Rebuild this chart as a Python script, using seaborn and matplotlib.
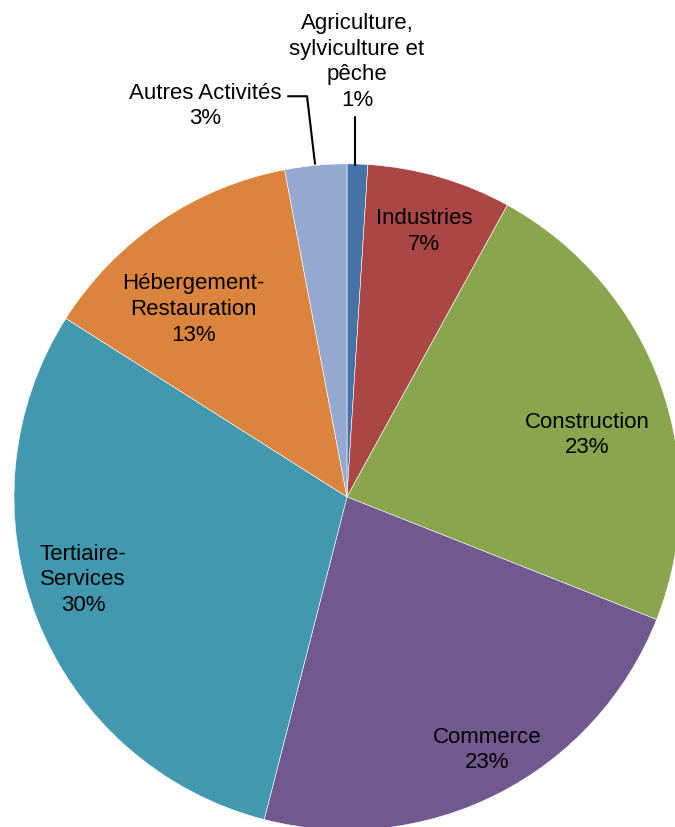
import matplotlib
matplotlib.use("Agg")
from matplotlib import pyplot as plt
import seaborn as sns

# data
secteurs = ["Agriculture,\nsylviculture et\npêche", "Industries", "Construction",
            "Commerce", "Tertiaire-\nServices", "Hébergement-\nRestauration",
            "Autres Activités"]
parts = [1, 7, 23, 23, 30, 13, 3]
couleurs = ["#4572A7", "#AA4643", "#89A54E", "#71588F", "#4198AF", "#DB843D", "#93A9CF"]

# label positions (data units, pie radius = 1)
label_xy = [(0.03, 1.309), (0.231, 0.80), (0.721, 0.189), (0.42, -0.757),
            (-0.793, -0.246), (-0.462, 0.565), (-0.426, 1.177)]

sns.set_theme(style="white")
plt.rcParams['font.family'] = ['Liberation Sans', 'DejaVu Sans']

fig = plt.figure(figsize=(6.75, 8.28), dpi=100)
ax = fig.add_axes([0, 0, 1, 1])
ax.pie(parts, colors=couleurs, startangle=90, counterclock=False,
       radius=1, wedgeprops=dict(edgecolor='white', linewidth=0.4))

for nom, val, (x, y) in zip(secteurs, parts, label_xy):
    ax.text(x, y, '%s\n%d%%' % (nom, val), ha='center', va='center',
            fontsize=16, linespacing=1.3, color='black')

# leader lines
ax.plot([0.024, 0.024], [1.142, 0.998], color='black', lw=1.5)
ax.plot([-0.177, -0.12, -0.096], [1.203, 1.203, 1.0], color='black', lw=1.5)

ax.set_xlim(-1.042, 0.985)
ax.set_ylim(-0.991, 1.495)
ax.set_aspect('auto')
ax.axis('off')

fig.savefig('out.png', dpi=100)
